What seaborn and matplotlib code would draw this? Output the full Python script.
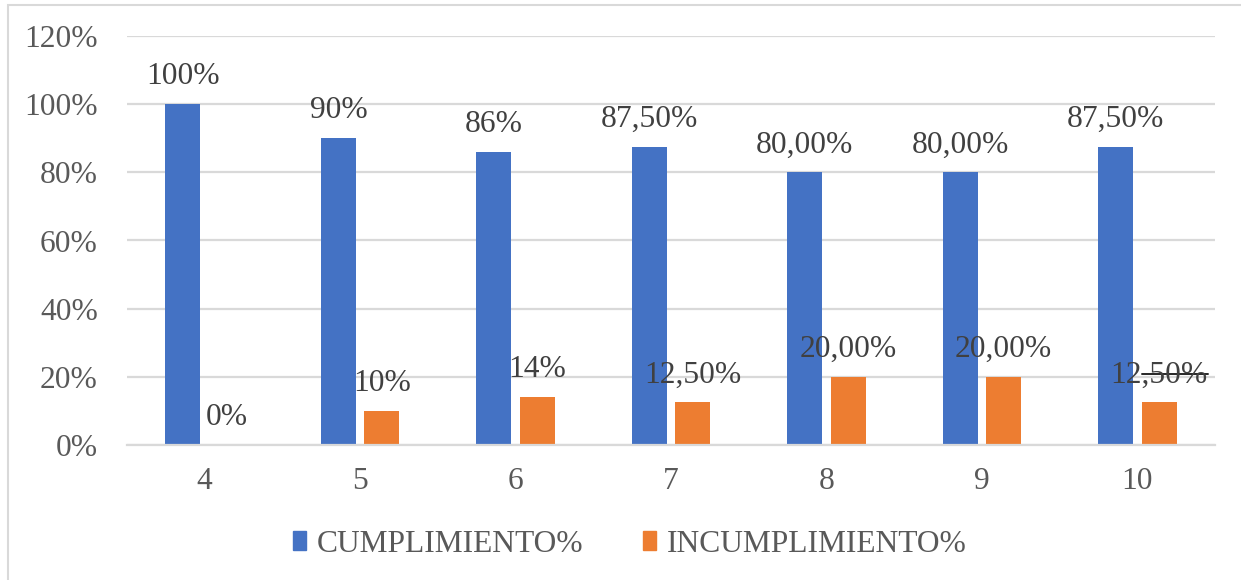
import matplotlib
matplotlib.use("Agg")
import matplotlib.pyplot as plt
import matplotlib.transforms as mtransforms
from matplotlib.patches import Rectangle
from matplotlib.lines import Line2D
import seaborn as sns
import pandas as pd

# Data
categorias = ["4", "5", "6", "7", "8", "9", "10"]
cumplimiento = [1.00, 0.90, 0.86, 0.875, 0.80, 0.80, 0.875]
incumplimiento = [0.00, 0.10, 0.14, 0.125, 0.20, 0.20, 0.125]
etiquetas_cumpl = ["100%", "90%", "86%", "87,50%", "80,00%", "80,00%", "87,50%"]
etiquetas_incumpl = ["0%", "10%", "14%", "12,50%", "20,00%", "20,00%", "12,50%"]
series = ["CUMPLIMIENTO%", "INCUMPLIMIENTO%"]
y_ticks = [0, 0.2, 0.4, 0.6, 0.8, 1.0, 1.2]
y_tick_labels = ["0%", "20%", "40%", "60%", "80%", "100%", "120%"]

df = pd.DataFrame({
    "categoria": categorias * 2,
    "valor": cumplimiento + incumplimiento,
    "serie": [series[0]] * len(categorias) + [series[1]] * len(categorias),
})

sns.set_theme(style="white")
plt.rcParams["font.family"] = ["Liberation Serif", "DejaVu Serif"]

FS = 22.7
GRID = "#D9D9D9"
TICK_C = "#595959"
LABEL_C = "#404040"
LABEL_OFFSET = 19.8  # points above the bar top
palette = {series[0]: "#4472C4", series[1]: "#ED7D31"}

fig = plt.figure(figsize=(12.41, 5.80), dpi=100)
ax = fig.add_axes([127 / 1241, 1 - 445 / 580, (1215 - 127) / 1241, (445 - 36) / 580])

sns.barplot(data=df, x="categoria", y="valor", hue="serie", order=categorias,
            hue_order=series, palette=palette, width=0.56, gap=0.196,
            saturation=1, linewidth=0, ax=ax, legend=True)

ax.set_ylim(0, 1.2)
ax.set_yticks(y_ticks)
ax.set_yticklabels(y_tick_labels)
ax.set_xlabel("")
ax.set_ylabel("")
ax.grid(axis="y", color=GRID, linewidth=1.6)
ax.set_axisbelow(True)
for side in ["top", "right", "left"]:
    ax.spines[side].set_visible(False)
ax.spines["bottom"].set_color(GRID)
ax.spines["bottom"].set_linewidth(1.6)
ax.tick_params(axis="both", length=0, labelsize=FS, labelcolor=TICK_C)
ax.tick_params(axis="y", pad=21)
ax.tick_params(axis="x", pad=16)

# Value labels above each bar
for container, labels in zip(ax.containers, [etiquetas_cumpl, etiquetas_incumpl]):
    for patch, text in zip(container.patches, labels):
        xc = patch.get_x() + patch.get_width() / 2
        ax.annotate(text, (xc, patch.get_height()), xytext=(0, LABEL_OFFSET),
                    textcoords="offset points", ha="center", va="center",
                    fontsize=FS, color=LABEL_C)

# Stray stroke through the last label
last = ax.containers[1].patches[-1]
xc = last.get_x() + last.get_width() / 2
stroke = Line2D([xc - 0.11, xc + 0.315], [last.get_height()] * 2,
                color="#262626", linewidth=1.4)
stroke.set_transform(mtransforms.offset_copy(ax.transData, fig=fig, x=0,
                                             y=LABEL_OFFSET + 0.5, units="points"))
ax.add_line(stroke)

# Legend
ax.get_legend().remove()
handles = [Rectangle((0, 0), 1, 1, color=palette[s]) for s in series]
fig.legend(handles, series, loc="center", bbox_to_anchor=(630 / 1241, 1 - 544 / 580),
           ncol=2, frameon=False, fontsize=FS, labelcolor=TICK_C,
           handlelength=0.4, handleheight=0.55, handletextpad=0.35,
           columnspacing=1.9)

# Outer border of the chart area
fig.patches.append(Rectangle((7.5 / 1241, -0.2), 1.5, 1.2 - 4.5 / 580,
                             transform=fig.transFigure, fill=False,
                             edgecolor=GRID, linewidth=1.5))

fig.savefig("out.png", dpi=100, facecolor="white")
